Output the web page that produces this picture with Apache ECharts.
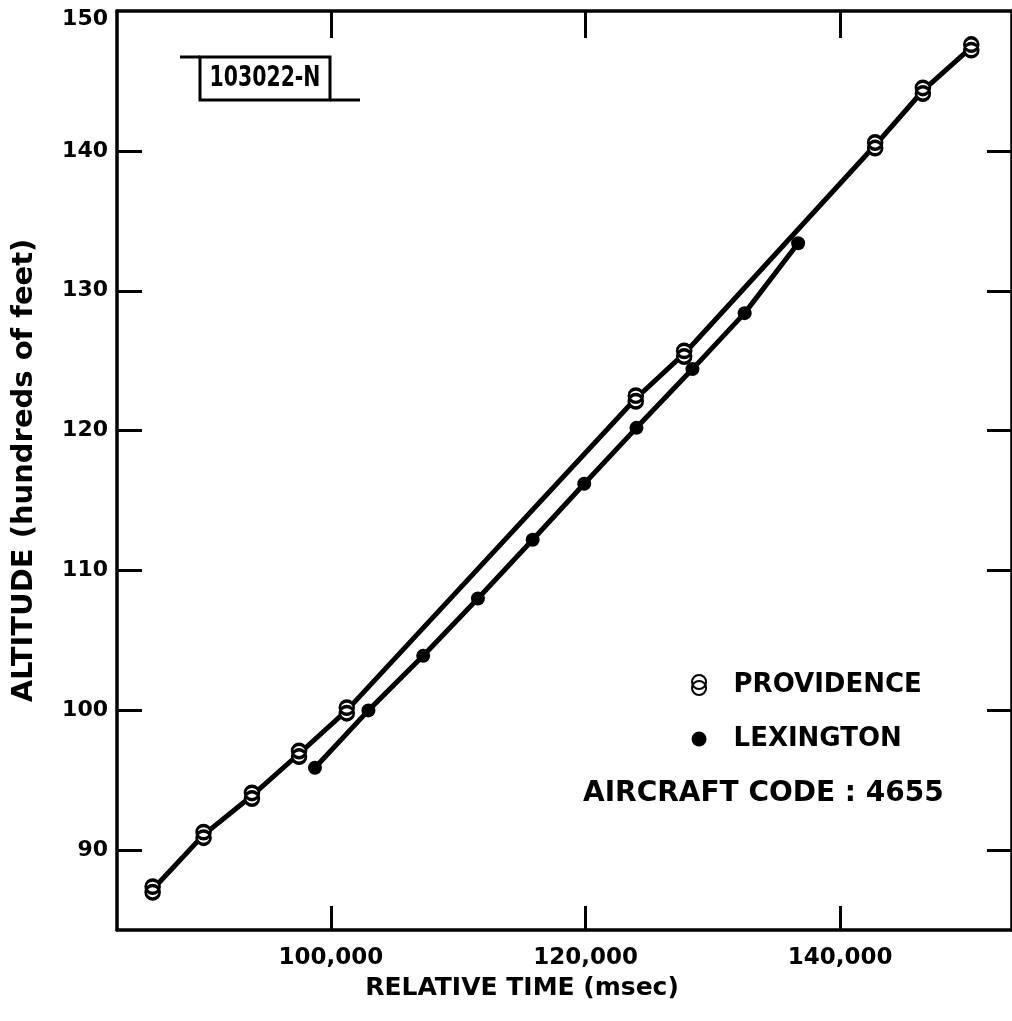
<!DOCTYPE html>
<html>
<head>
<meta charset="utf-8">
<script src="https://cdn.jsdelivr.net/npm/echarts@6/dist/echarts.min.js"></script>
<style>
html,body{margin:0;padding:0;background:#fff;}
#chart{width:1012px;height:1021px;}
</style>
</head>
<body>
<div id="chart"></div>
<script>
// ---- data ----
const providenceTime = [86000, 90000, 93800, 97500, 101250, 123950, 127750, 142750, 146500, 150300];
const providenceAlt  = [87.2, 91.1, 93.9, 96.9, 100.0, 122.3, 125.5, 140.4, 144.3, 147.4];
const lexingtonTime  = [98750, 102950, 107250, 111550, 115850, 119900, 124000, 128400, 132500, 136700];
const lexingtonAlt   = [95.9, 100.0, 103.9, 108.0, 112.2, 116.2, 120.2, 124.4, 128.4, 133.4];
const xTicks = [100000, 120000, 140000];
const yTicks = [90, 100, 110, 120, 130, 140, 150];
const seriesNames = ['PROVIDENCE', 'LEXINGTON'];
const xTitle = 'RELATIVE TIME (msec)';
const yTitle = 'ALTITUDE (hundreds of feet)';
const figureTag = '103022-N';
const aircraftNote = 'AIRCRAFT CODE : 4655';

const FONT = 'DejaVu Sans';
const doubleCircle = 'path://M1,7a6,6 0 1,0 12,0a6,6 0 1,0 -12,0ZM1,12a6,6 0 1,0 12,0a6,6 0 1,0 -12,0Z';

const pairs = (xs, ys) => xs.map((x, i) => [x, ys[i]]);

const axisLineStyle = { color: '#000', width: 3.5 };
const fmtX = v => Number(v).toLocaleString('en-US');
const fmtY = v => (v === yTicks[yTicks.length - 1] ? '{top|' + v + '}' : String(v));

const chart = echarts.init(document.getElementById('chart'), null, { renderer: 'canvas' });
chart.setOption({
  backgroundColor: '#fff',
  animation: false,
  grid: { left: 117, top: 11, right: -6, bottom: 91, containLabel: false },
  xAxis: [
    {
      type: 'value', position: 'bottom', min: 83200, max: 153500,
      axisLine: { show: true, lineStyle: axisLineStyle },
      axisTick: { show: true, inside: true, length: 24, customValues: xTicks, lineStyle: { color: '#000', width: 3 } },
      axisLabel: { show: true, customValues: xTicks, formatter: fmtX, margin: 17,
        fontFamily: FONT, fontSize: 23, fontWeight: 'bold', color: '#000' },
      splitLine: { show: false }
    },
    {
      type: 'value', position: 'top', min: 83200, max: 153500,
      axisLine: { show: true, lineStyle: axisLineStyle },
      axisTick: { show: true, inside: true, length: 27, customValues: xTicks, lineStyle: { color: '#000', width: 3 } },
      axisLabel: { show: false },
      splitLine: { show: false }
    }
  ],
  yAxis: [
    {
      type: 'value', position: 'left', min: 84.3, max: 150,
      name: yTitle, nameLocation: 'middle', nameRotate: 90, nameGap: 78,
      nameTextStyle: { fontFamily: FONT, fontSize: 29, fontWeight: 'bold', color: '#000' },
      axisLine: { show: true, lineStyle: axisLineStyle },
      axisTick: { show: true, inside: true, length: 25, customValues: yTicks.slice(0, 6), lineStyle: { color: '#000', width: 3 } },
      axisLabel: { show: true, customValues: yTicks, margin: 9, showMaxLabel: true, formatter: fmtY,
        fontFamily: FONT, fontSize: 22, fontWeight: 'bold', color: '#000',
        rich: { top: { fontFamily: FONT, fontSize: 22, fontWeight: 'bold', color: '#000', padding: [16, 0, 0, 0] } } },
      splitLine: { show: false }
    },
    {
      type: 'value', position: 'right', min: 84.3, max: 150,
      axisLine: { show: true, lineStyle: axisLineStyle },
      axisTick: { show: true, inside: true, length: 25, customValues: yTicks.slice(0, 6), lineStyle: { color: '#000', width: 3 } },
      axisLabel: { show: false },
      splitLine: { show: false }
    }
  ],
  legend: {
    orient: 'vertical', left: 686, top: 667,
    itemWidth: 15, itemHeight: 20, itemGap: 28,
    textStyle: { fontFamily: FONT, fontSize: 26, fontWeight: 'bold', color: '#000', padding: [0, 0, 0, 22] },
    data: [
      { name: seriesNames[0], icon: doubleCircle },
      { name: seriesNames[1], icon: 'circle' }
    ]
  },
  series: [
    {
      name: seriesNames[1], type: 'line', xAxisIndex: 0, yAxisIndex: 0,
      data: pairs(lexingtonTime, lexingtonAlt),
      symbol: 'circle', symbolSize: 14, showAllSymbol: true,
      lineStyle: { color: '#000', width: 5 },
      itemStyle: { color: '#000', borderColor: '#000', borderWidth: 0 },
      z: 2
    },
    {
      name: seriesNames[0], type: 'line', xAxisIndex: 0, yAxisIndex: 0,
      data: pairs(providenceTime, providenceAlt),
      symbol: doubleCircle, symbolSize: [14, 19], showAllSymbol: true,
      lineStyle: { color: '#000', width: 5 },
      itemStyle: { color: '#fff', borderColor: '#000', borderWidth: 3 },
      z: 3
    }
  ],
  graphic: [
    {
      type: 'text', x: 522, y: 988,
      style: { text: xTitle, align: 'center', verticalAlign: 'middle',
        fontFamily: FONT, fontSize: 25, fontWeight: 'bold', fill: '#000' }
    },
    {
      type: 'group', silent: true,
      children: [
        { type: 'rect', shape: { x: 200, y: 57, width: 130, height: 43 },
          style: { fill: 'none', stroke: '#000', lineWidth: 3 } },
        { type: 'line', shape: { x1: 180, y1: 57, x2: 200, y2: 57 },
          style: { stroke: '#000', lineWidth: 3 } },
        { type: 'line', shape: { x1: 330, y1: 100, x2: 360, y2: 100 },
          style: { stroke: '#000', lineWidth: 3 } },
        { type: 'text', x: 265, y: 79, scaleX: 0.73,
          style: { text: figureTag, align: 'center', verticalAlign: 'middle',
            fontFamily: FONT, fontSize: 28, fontWeight: 'bold', fill: '#000' } }
      ]
    },
    {
      type: 'text', x: 583, y: 794,
      style: { text: aircraftNote, align: 'left', verticalAlign: 'middle',
        fontFamily: FONT, fontSize: 28, fontWeight: 'bold', fill: '#000' }
    }
  ]
});
</script>
</body>
</html>
